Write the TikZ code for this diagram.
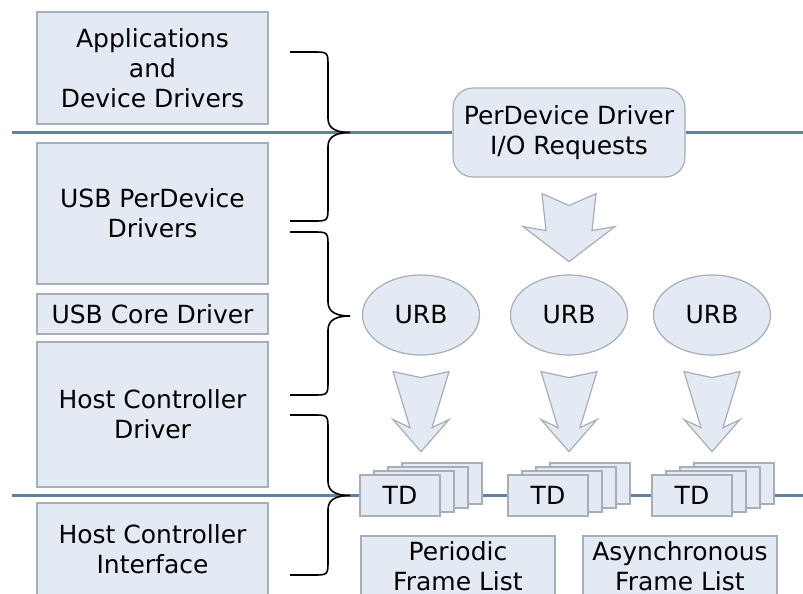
\documentclass[tikz,border=0pt]{standalone}
\usepackage{fontspec}
\setmainfont{DejaVu Sans}
\usetikzlibrary{shapes.geometric, positioning}

\definecolor{boxfill}{RGB}{228,234,244}
\definecolor{boxline}{RGB}{166,174,184}
\definecolor{busline}{RGB}{98,128,162}

\tikzset{
    bigdown/.pic={\draw[blockarrow] (-27,0) -- (0,12) -- (27,0) -- (23,37) -- (46,33) -- (0,68) -- (-46,33) -- (-23,37) -- cycle;},
    smalldown/.pic={\draw[blockarrow] (-28,0) -- (0,6) -- (28,0) -- (11,56) -- (28,48) -- (0,80) -- (-28,48) -- (-11,56) -- cycle;}
}

\begin{document}
\begin{tikzpicture}[
    x=0.5pt, y=-0.5pt,
    every node/.style={font=\fontsize{12.5}{15}\selectfont},
    layer/.style={rectangle, draw=boxline, fill=boxfill, line width=0.6pt, align=center, inner sep=0pt, minimum width=115.5pt},
    request/.style={rectangle, rounded corners=10pt, draw=boxline, fill=boxfill, line width=0.6pt, align=center, minimum width=116pt, minimum height=44.5pt},
    urb/.style={ellipse, draw=boxline, fill=boxfill, line width=0.6pt, inner sep=0pt, minimum width=58.5pt, minimum height=40pt},
    tdbox/.style={rectangle, draw=boxline, fill=boxfill, line width=0.6pt, inner sep=0pt, minimum width=40pt, minimum height=20.5pt},
    framelist/.style={rectangle, draw=boxline, fill=boxfill, line width=0.6pt, align=center, inner sep=0pt, minimum width=97pt, minimum height=30pt},
    blockarrow/.style={draw=boxline, fill=boxfill, line width=0.6pt, line join=miter},
    bus/.style={draw=busline, line width=1.1pt},
    brace/.style={draw=black, line width=0.8pt}
]
    \useasboundingbox (0,0) rectangle (803,594);

    % software / hardware layers
    \node[layer, minimum height=56pt] (apps) at (152.5,68) {Applications\\and\\Device Drivers};
    \node[layer, minimum height=70.5pt] (perdev) at (152.5,213.5) {USB PerDevice\\Drivers};
    \node[layer, minimum height=20pt] (core) at (152.5,314) {USB Core Driver};
    \node[layer, minimum height=72.5pt] (hcd) at (152.5,414.5) {Host Controller\\Driver};
    \node[layer, minimum height=46pt] (hci) at (152.5,549) {Host Controller\\Interface};

    \node[request] (req) at (569,132.5) {PerDevice Driver\\I/O Requests};

    \node[urb] (urb1) at (421,315) {URB};
    \node[urb] (urb2) at (569,315) {URB};
    \node[urb] (urb3) at (712,315) {URB};

    \foreach \n/\x in {1/400, 2/548, 3/692} {
        \foreach \k in {3,2,1}
            \node[tdbox] (td\n-\k) at (\x+14*\k,495.5-4*\k) {};
        \node[tdbox] (td\n) at (\x,495.5) {TD};
    }

    \node[framelist] (periodic) at (458,566) {Periodic\\Frame List};
    \node[framelist] (async) at (680,566) {Asynchronous\\Frame List};

    % block arrows
    \pic at ([yshift=-8pt]req.south) {bigdown};
    \pic at ([yshift=-8pt]urb1.south) {smalldown};
    \pic at ([yshift=-8pt]urb2.south) {smalldown};
    \pic at ([yshift=-8pt]urb3.south) {smalldown};

    % boundary lines
    \coordinate (topL) at (12,132.5);
    \coordinate (topR) at (803,132.5);
    \coordinate (busL) at (12,495.5);
    \coordinate (busR) at (803,495.5);
    \draw[bus] (topL) -- (req.west);
    \draw[bus] (req.east) -- (topR);
    \draw[bus] (busL) -- (td1.west);
    \draw[bus] (td1.east -| td1-3.east) -- (td2.west);
    \draw[bus] (td2.east -| td2-3.east) -- (td3.west);
    \draw[bus] (td3.east -| td3-3.east) -- (busR);

    % braces
    \foreach \ya/\ym/\yb in {52/132.5/221, 232/316/395, 415/495.5/575}
        \draw[brace] (290,\ya) -- (313,\ya) .. controls (328,\ya) and (328,\ya) .. (328,\ya+15)
            -- (328,\ym-14) .. controls (328,\ym-3) and (338,\ym) .. (350,\ym)
            .. controls (338,\ym) and (328,\ym+3) .. (328,\ym+14)
            -- (328,\yb-15) .. controls (328,\yb) and (328,\yb) .. (313,\yb) -- (290,\yb);
\end{tikzpicture}
\end{document}
